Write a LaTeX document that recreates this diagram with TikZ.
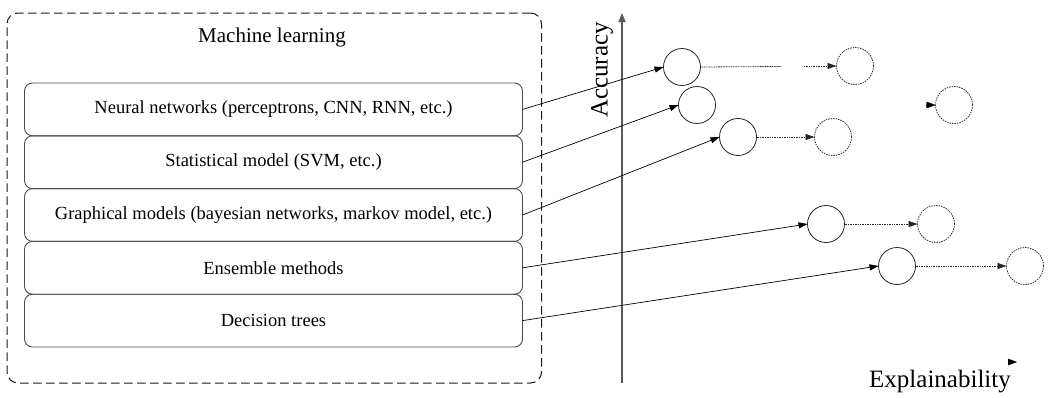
\documentclass[tikz,border=0pt]{standalone}
\usepackage{fontspec}
\setmainfont{Liberation Serif}
\usetikzlibrary{arrows.meta}
\begin{document}
\begin{tikzpicture}[x=1pt,y=-1pt,
  outerbox/.style={draw=black!90, line width=1pt, dash pattern=on 8.5pt off 4.5pt, rounded corners=11pt, minimum width=534.5pt, minimum height=370pt, inner sep=0pt, outer sep=0pt},
  mlbox/.style={draw=black!70, line width=0.9pt, rounded corners=8pt, minimum width=498pt, minimum height=52.8pt, inner sep=0pt, outer sep=0pt, font=\fontsize{18.5}{20}\selectfont},
  sc/.style={circle, draw=black!85, line width=0.8pt, minimum size=37pt, inner sep=0pt, outer sep=0pt},
  dc/.style={circle, draw=black!80, line width=0.8pt, dash pattern=on 1.5pt off 1pt, minimum size=37pt, inner sep=0pt, outer sep=0pt},
  conn/.style={line width=0.7pt, black, -{Triangle[length=9pt,width=6pt]}},
  dconn/.style={line width=0.8pt, black!85, dash pattern=on 1pt off 0.7pt, -{Triangle[length=9pt,width=6pt]}},
  dline/.style={line width=0.8pt, black!85, dash pattern=on 1pt off 0.7pt},
  tip/.style={-{Triangle[length=9pt,width=6.5pt]}, black},
  axislabel/.style={font=\fontsize{25}{28}\selectfont, inner sep=0pt}
]
\useasboundingbox (0,0) rectangle (1049,397);

% machine learning group
\node[outerbox] (ml) at (274.25,198) {};
\node[font=\fontsize{21}{24}\selectfont] (title) at (272,37) {Machine learning};
\node[mlbox] (b1) at (273.5,109.4) {Neural networks (perceptrons, CNN, RNN, etc.)};
\node[mlbox] (b2) at (273.5,162.2) {Statistical model (SVM, etc.)};
\node[mlbox] (b3) at (273.5,215.0) {Graphical models (bayesian networks, markov model, etc.)};
\node[mlbox] (b4) at (273.5,267.8) {Ensemble methods};
\node[mlbox] (b5) at (273.5,320.6) {Decision trees};

% axes
\coordinate (ybot) at (622,383);
\coordinate (ytop) at (622,13);
\draw[line width=1.4pt, black!65, -{Triangle[length=9pt,width=7pt]}] (ybot) -- (ytop);
\node[axislabel, rotate=90] (acc) at (602,70) {Accuracy};
\coordinate (xtipA) at (1008,362);
\coordinate (xtipB) at (1017,362);
\draw[tip] (xtipA) -- (xtipB);
\node[axislabel] (expl) at (940,382) {Explainability};

% circles
\node[sc] (c1) at (682,67) {};
\node[sc] (c2) at (697,105) {};
\node[sc] (c3) at (738,137) {};
\node[sc] (c4) at (826,224) {};
\node[sc] (c5) at (897,266) {};
\node[dc] (d1) at (855,66) {};
\node[dc] (d2) at (954,105) {};
\node[dc] (d3) at (833,137) {};
\node[dc] (d4) at (936,224) {};
\node[dc] (d5) at (1025,266) {};

% connectors from boxes
\draw[conn] (b1.east) -- (c1.west);
\draw[conn] (b2.east) -- (c2.west);
\draw[conn] (b3.east) -- (c3.west);
\draw[conn] (b4.east) -- (c4.west);
\draw[conn] (b5.east) -- (c5.west);

% dotted connectors
\coordinate (g1) at (781,66.5);
\coordinate (g2) at (804,66);
\draw[dline] (c1.east) -- (g1);
\draw[dconn] (g2) -- (d1.west);
\coordinate (d2t) at (926,105);
\draw[tip] (d2t) -- (d2.west);
\draw[dconn] (c3.east) -- (d3.west);
\draw[dconn] (c4.east) -- (d4.west);
\draw[dconn] (c5.east) -- (d5.west);
\end{tikzpicture}
\end{document}
